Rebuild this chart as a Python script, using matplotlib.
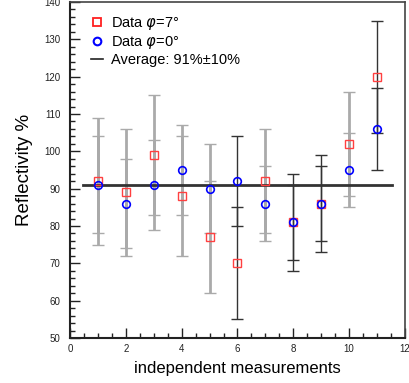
import numpy as np
import matplotlib
matplotlib.use('Agg')
import matplotlib.pyplot as plt
from matplotlib.lines import Line2D
from matplotlib.ticker import MultipleLocator

plt.rcParams['font.family'] = ['Liberation Sans', 'DejaVu Sans']
plt.rcParams['mathtext.fontset'] = 'dejavusans'

# measurements
meas = [1, 2, 3, 4, 5, 6, 7, 8, 9, 10, 11]
refl_7deg = [92, 89, 99, 88, 77, 70, 92, 81, 86, 102, 120]
err_7deg = [17, 17, 16, 16, 15, 15, 14, 13, 13, 14, 15]
refl_0deg = [91, 86, 91, 95, 90, 92, 86, 81, 86, 95, 106]
err_0deg = [13, 12, 12, 12, 12, 12, 10, 10, 10, 10, 11]
average = 91
avg_span = [0.45, 11.55]

# which points get thin dark error bars (rest are thick grey)
dark_bars = [6, 8, 9, 11]

fig = plt.figure(figsize=(4.10, 3.83), dpi=100)
ax = fig.add_axes([70/410, 1-338/383, 335/410, 336/383])

for i, m in enumerate(meas):
	if m in dark_bars:
		ecol, lw, ccol = '#333333', 1.0, '#333333'
	else:
		ecol, lw, ccol = '#aaaaaa', 2.0, '#555555'
	for val, err in ((refl_7deg[i], err_7deg[i]), (refl_0deg[i], err_0deg[i])):
		_, caps, _ = ax.errorbar(m, val, yerr=err, fmt='none', ecolor=ecol,
			elinewidth=lw, capsize=4, capthick=1.0, zorder=2)
		for c in caps:
			c.set_color(ccol)

ax.plot(avg_span, [average, average], color='#333333', lw=2.0, zorder=3)

ax.plot(meas, refl_7deg, 's', ms=6, mfc='none', mec='#ff4040', mew=1.0, zorder=4)
ax.plot(meas, refl_0deg, 'o', ms=5.5, mfc='none', mec='#0000ff', mew=1.2, zorder=5)

ax.set_xlim(0, 12)
ax.set_ylim(50, 140)
ax.xaxis.set_major_locator(MultipleLocator(2))
ax.xaxis.set_minor_locator(MultipleLocator(0.5))
ax.yaxis.set_major_locator(MultipleLocator(10))
ax.yaxis.set_minor_locator(MultipleLocator(2))
ax.tick_params(which='both', direction='in', top=False, right=False, labelsize=7, colors='#222222')
ax.tick_params(which='major', length=7, width=1.0)
ax.tick_params(which='minor', length=3.5, width=1.0)
ax.tick_params(axis='x', pad=4)
ax.tick_params(axis='y', pad=7)
for s in ['left', 'bottom']:
	ax.spines[s].set_linewidth(1.5)
	ax.spines[s].set_color('#222222')
for s in ['top', 'right']:
	ax.spines[s].set_linewidth(1.2)
	ax.spines[s].set_color('#444444')

ax.set_xlabel('independent measurements', fontsize=12, labelpad=5)
ax.set_ylabel('Reflectivity %', fontsize=13.5)
ax.yaxis.set_label_coords(-0.11, 0.5)

handles = [
	Line2D([], [], ls='none', marker='s', ms=6, mfc='none', mec='#ff2020', mew=1.3),
	Line2D([], [], ls='none', marker='o', ms=5.5, mfc='none', mec='#0000ff', mew=1.5),
	Line2D([], [], color='#222222', lw=1.2),
]
labels = [r'Data $\varphi$=7°', r'Data $\varphi$=0°', 'Average: 91%±10%']
ax.legend(handles, labels, loc='upper left', bbox_to_anchor=(0.045, 0.978), frameon=False,
	fontsize=10.5, handlelength=0.8, handletextpad=0.6, labelspacing=0.12, borderaxespad=0)

fig.savefig('out.png', dpi=100)
